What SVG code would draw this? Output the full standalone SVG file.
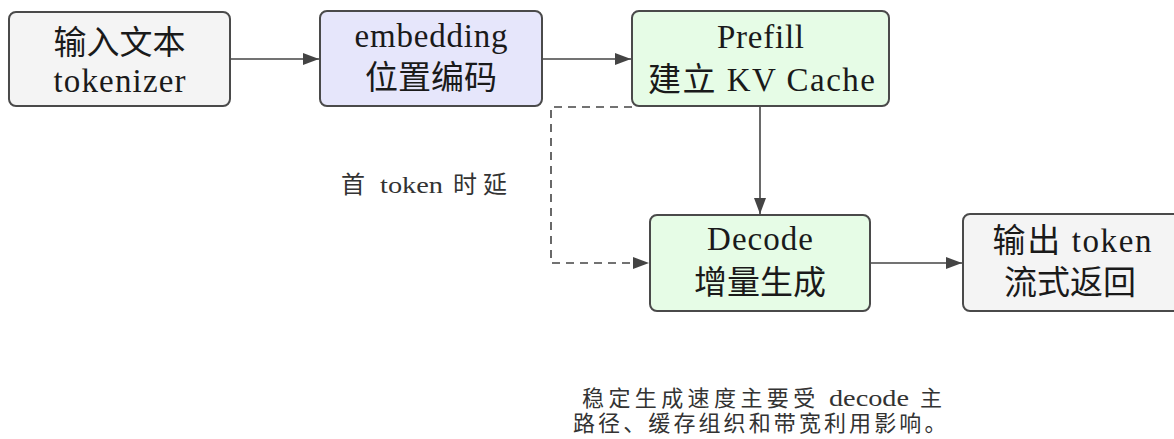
<svg xmlns="http://www.w3.org/2000/svg" width="1174" height="439" viewBox="0 0 1174 439">
  <style>
    .box { stroke: #4a4a4a; stroke-width: 2; }
    .gray { fill: #f4f4f4; }
    .blue { fill: #e6e6fb; }
    .green { fill: #e6fce6; }
    .t { font-family: "Liberation Serif", "Noto Sans CJK SC", serif; font-size: 33px; fill: #1a1a1a; text-anchor: middle; }
    .note { font-family: "Liberation Serif", "Noto Sans CJK SC", serif; font-size: 22px; fill: #333; }
    .lbl { font-family: "Liberation Serif", "Noto Sans CJK SC", serif; font-size: 24px; fill: #333; }
    .edge { fill: none; stroke: #444; stroke-width: 1.6; }
    .dash { stroke-dasharray: 8 6; }
  </style>
  <defs>
    <marker id="arrowBig" viewBox="0 0 16 12" refX="16" refY="6" markerWidth="16" markerHeight="12" markerUnits="userSpaceOnUse" orient="auto">
      <path d="M0,0 L16,6 L0,12 z" fill="#444"/>
    </marker>
  </defs>

  <g id="connectors">
    <path class="edge" d="M231,59 L319,59" marker-end="url(#arrowBig)"/>
    <path class="edge" d="M543,59 L631,59" marker-end="url(#arrowBig)"/>
    <path class="edge" d="M760,107 L760,214" marker-end="url(#arrowBig)"/>
    <path class="edge dash" d="M632,107 L551,107 L551,263 L649,263" marker-end="url(#arrowBig)"/>
    <path class="edge" d="M871,263 L962,263" marker-end="url(#arrowBig)"/>
  </g>

  <g id="input">
    <rect class="box gray" x="9" y="12" width="221" height="94" rx="7"/>
    <text class="t" x="119.5" y="54">输入文本</text>
    <text class="t" x="119.5" y="92" textLength="132">tokenizer</text>
  </g>

  <g id="embedding">
    <rect class="box blue" x="320" y="11" width="222" height="95" rx="7"/>
    <text class="t" x="431" y="47" textLength="153">embedding</text>
    <text class="t" x="431" y="89">位置编码</text>
  </g>

  <g id="prefill">
    <rect class="box green" x="632" y="11" width="257" height="95" rx="7"/>
    <text class="t" x="760.5" y="48" textLength="87">Prefill</text>
    <text class="t" x="761.5" y="91" textLength="227">建立 KV Cache</text>
  </g>

  <g id="decode">
    <rect class="box green" x="650" y="215" width="220" height="96" rx="7"/>
    <text class="t" x="760" y="250" textLength="106">Decode</text>
    <text class="t" x="760" y="294">增量生成</text>
  </g>

  <g id="output">
    <rect class="box gray" x="963" y="214" width="220" height="97" rx="7"/>
    <text class="t" x="1072" y="252" textLength="159">输出 token</text>
    <text class="t" x="1070" y="294">流式返回</text>
  </g>

  <g id="ttft-label">
    <text class="lbl" y="193"><tspan x="341">首</tspan><tspan x="380" textLength="63" lengthAdjust="spacingAndGlyphs">token</tspan><tspan x="453">时</tspan><tspan x="483">延</tspan></text>
  </g>

  <g id="footnote">
    <text class="note" y="406"><tspan x="582" letter-spacing="4.4">稳定生成速度主要受</tspan><tspan x="829" font-size="24" textLength="80" lengthAdjust="spacingAndGlyphs">decode</tspan><tspan x="920">主</tspan></text>
    <text class="note" y="431" x="573" letter-spacing="3.1">路径、缓存组织和带宽利用影响。</text>
  </g>
</svg>
